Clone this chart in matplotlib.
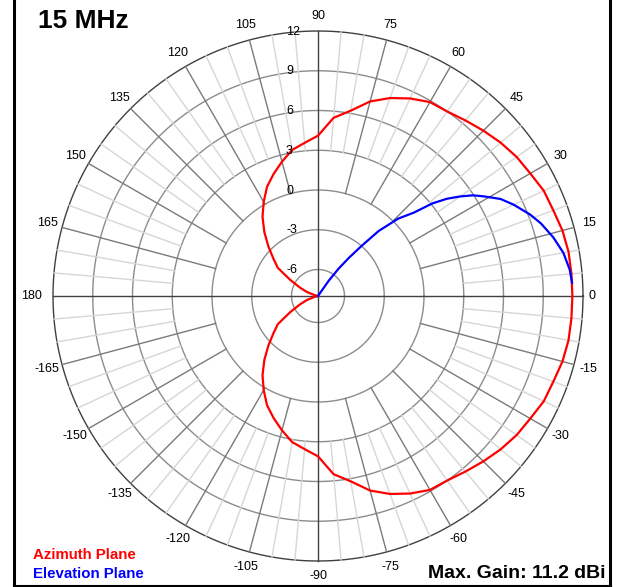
import numpy as np
import matplotlib.pyplot as plt
from matplotlib.lines import Line2D

# azimuth plane gain (dBi) from 0 to 180 deg, the pattern is mirrored for negative angles
az_angles = [0, 5, 10, 15, 20, 25, 30, 35, 40, 45, 50, 55, 60, 65, 70, 75, 80, 85,
             90, 95, 100, 105, 110, 115, 120, 125, 130, 135, 140, 145, 150, 155,
             160, 165, 170, 175, 180]
az_gain = [11.2, 11.2, 11.2, 11.1, 10.9, 10.8, 10.5, 10.3, 10.0, 9.65, 9.3, 9.0,
           8.9, 8.45, 7.9, 7.2, 6.2, 5.5, 4.1, 3.6, 3.2, 2.5, 1.8, 1.1, 0.2, -0.7,
           -1.7, -2.7, -3.6, -4.3, -5.6, -6.5, -7.1, -7.7, -8.0, -8.0, -8.0]

# elevation plane gain (dBi)
el_angles = [3, 6, 10, 14, 18, 21, 25, 28, 31, 33, 35, 37, 39, 41, 44, 47, 49, 51,
             53, 55, 57]
el_gain = [11.2, 11.1, 10.8, 10.3, 9.7, 9.15, 8.3, 7.6, 6.6, 5.95, 5.1, 4.2, 3.1,
           1.6, 0.4, -1.3, -3.0, -4.3, -5.4, -6.6, -8.0]

ring_values = [-6, -3, 0, 3, 6, 9, 12]
angle_labels = list(range(-165, 181, 15))
freq_label = "15 MHz"
max_gain = 11.2

RMIN, RMAX = -8, 12

W, H = 618, 587
fig = plt.figure(figsize=(W / 100, H / 100), dpi=100)
fig.patch.set_facecolor('white')

# center at (318, 296) px, radius 265 px
cx, cy, rad = 318, 296, 265
ax = fig.add_axes([(cx - rad) / W, 1 - (cy + rad) / H, 2 * rad / W, 2 * rad / H],
                  projection='polar')
ax.set_theta_zero_location('E')
ax.set_ylim(RMIN, RMAX)
ax.grid(False)
ax.set_xticks([])
ax.set_yticks([])
ax.spines['polar'].set_visible(False)

full = np.linspace(0, 2 * np.pi, 721)

# rings
for rv in ring_values:
    col = '#404040' if rv == RMAX else '#8c8c8c'
    ax.plot(full, np.full_like(full, rv), color=col, lw=1, zorder=1, clip_on=False)

# spokes
for a in range(0, 360, 5):
    t = np.radians(a)
    if a % 90 == 0:
        ax.plot([t, t], [RMIN, RMAX], color='#404040', lw=1, zorder=2, clip_on=False)
    elif a % 15 == 0:
        ax.plot([t, t], [0, RMAX], color='#7a7a7a', lw=1, zorder=1.5, clip_on=False)
    else:
        ax.plot([t, t], [3, RMAX], color='#d6d6d6', lw=1, zorder=1, clip_on=False)

# pattern curves
az_a = np.array(az_angles, dtype=float)
az_g = np.array(az_gain, dtype=float)
az_full_a = np.concatenate([-az_a[::-1], az_a[1:]])
az_full_g = np.concatenate([az_g[::-1], az_g[1:]])
ax.plot(np.radians(az_full_a), np.clip(az_full_g, RMIN, None), color='#ff0000',
        lw=1.6, zorder=5, clip_on=False)
ax.plot(np.radians(el_angles), np.clip(el_gain, RMIN, None), color='#0000ff',
        lw=1.6, zorder=6, clip_on=False)

lab_font = ['Liberation Sans Narrow', 'Liberation Sans', 'DejaVu Sans']

# angle labels
for a in angle_labels:
    r = 13.15
    if a == 0:
        r = 12.65
    elif a == 180:
        r = 13.65
    ax.text(np.radians(a), r, str(a), ha='center', va='center', fontsize=9,
            family=lab_font, clip_on=False)

# gain labels along the 90 deg axis
for rv in ring_values:
    ax.annotate(str(rv), xy=(np.pi / 2, rv), xytext=(-23, -0.5),
                textcoords='offset points', ha='left', va='center', fontsize=9,
                family=lab_font, zorder=7)

fig.text(38 / W, 1 - 21 / H, freq_label, ha='left', va='center', fontsize=19,
         fontweight='bold', family='Liberation Sans')
fig.text(33 / W, 1 - 555 / H, "Azimuth Plane", ha='left', va='center', fontsize=10.8,
         fontweight='bold', color='#ff0000', family=lab_font)
fig.text(33 / W, 1 - 574 / H, "Elevation Plane", ha='left', va='center', fontsize=10.8,
         fontweight='bold', color='#0000ff', family=lab_font)
fig.text(605 / W, 1 - 573 / H, "Max. Gain: %.1f dBi" % max_gain, ha='right', va='center',
         fontsize=14, fontweight='bold', family='Liberation Sans')

# frame
fig.add_artist(Line2D([13.5 / W, 13.5 / W], [1 - 585.5 / H, 1.0], color='black', lw=2.2))
fig.add_artist(Line2D([609.5 / W, 609.5 / W], [1 - 585.5 / H, 1.0], color='black', lw=2.2))
fig.add_artist(Line2D([13.5 / W, 609.5 / W], [1 - 585.5 / H, 1 - 585.5 / H],
                      color='black', lw=2.2))

fig.savefig('out.png', dpi=100, facecolor='white')
